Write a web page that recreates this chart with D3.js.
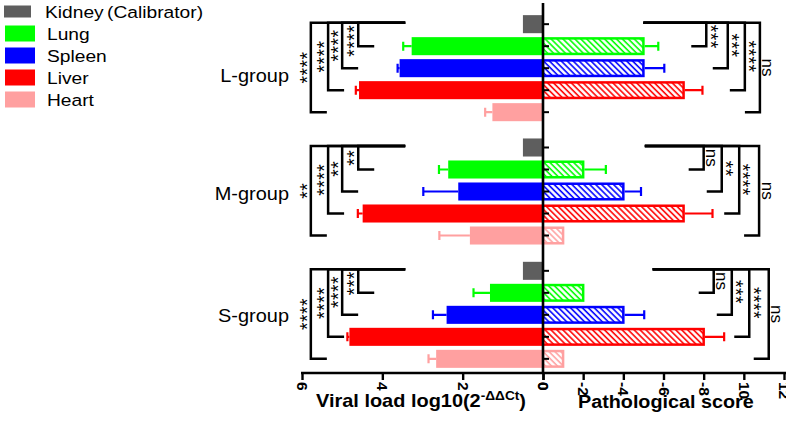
<!DOCTYPE html>
<html>
<head>
<meta charset="utf-8">
<script src="https://cdn.jsdelivr.net/npm/d3@7"></script>
<style>
body { margin: 0; background: #fff; }
svg { display: block; font-family: Arial, "Liberation Sans", sans-serif; }
</style>
</head>
<body>
<div class="container"></div>
<script>
// data
var groups = ["L-group", "M-group", "S-group"];
var organs = ["Kidney", "Lung", "Spleen", "Liver", "Heart"];
var organColors = ["#5e5e5e", "#00ff00", "#0000ff", "#ff0000", "#ffa0a0"];

// viral load log10(2^-ddCt), kidney is the calibrator
var viralL = [0.5, 3.27, 3.57, 4.58, 1.26];
var viralLErr = [0, 0.21, 0.05, 0.08, 0.18];
var viralM = [0.5, 2.36, 2.11, 4.49, 1.82];
var viralMErr = [0, 0.23, 0.87, 0.12, 0.76];
var viralS = [0.5, 1.32, 2.40, 4.82, 2.66];
var viralSErr = [0, 0.41, 0.34, 0.05, 0.19];

// pathological score (no kidney bar)
var pathL = [0, 5, 5, 7, 0];
var pathLErr = [0, 0.74, 1.04, 0.94, 0];
var pathM = [0, 2, 4, 7, 1];
var pathMErr = [0, 1.13, 0.88, 1.44, 0];
var pathS = [0, 2, 4, 8, 1];
var pathSErr = [0, 0, 1.04, 1.02, 0];

// significance vs kidney: lung, spleen, liver, heart
var sigLeftL = ["****", "****", "****", "****"];
var sigLeftM = ["**", "**", "****", "**"];
var sigLeftS = ["***", "****", "****", "****"];
var sigRightL = ["***", "***", "****", "ns"];
var sigRightM = ["ns", "**", "****", "ns"];
var sigRightS = ["ns", "***", "****", "ns"];

var viralTicks = [6, 4, 2, 0];
var scoreTicks = [0, 2, 4, 6, 8, 10, 12];
var scoreTickLabels = ["0", "-2", "-4", "-6", "-8", "10", "12"];

// layout
var w = 786, h = 424, mid = 543, axisY = 373;
var leftBracketX = [4.6, 5.0, 5.35, 5.78];     // viral units
var leftArmEnd = 3.43;
var rightBracketX = [[8.13, 9.2, 10.05, 10.8], [8.0, 8.9, 9.77, 10.76], [8.5, 9.4, 10.27, 11.24]];
var rightArmEnd = [5.0, 5.07, 5.46];
var groupLabelDy = [8, 2, 1];

var viralVals = [viralL, viralM, viralS], viralErrs = [viralLErr, viralMErr, viralSErr];
var pathVals = [pathL, pathM, pathS], pathErrs = [pathLErr, pathMErr, pathSErr];
var sigLeft = [sigLeftL, sigLeftM, sigLeftS], sigRight = [sigRightL, sigRightM, sigRightS];

var rows = [];
groups.forEach(function (g, gi) {
  organs.forEach(function (o, oi) {
    rows.push({ g: g, o: o, gi: gi, oi: oi,
      v: viralVals[gi][oi], ve: viralErrs[gi][oi],
      p: pathVals[gi][oi], pe: pathErrs[gi][oi],
      color: organColors[oi] });
  });
});

var svg = d3.select('.container').append('svg')
  .attr('width', w)
  .attr('height', h);

var xViral = d3.scaleLinear().domain([6, 0]).range([302, mid]);
var xScore = d3.scaleLinear().domain([0, 12]).range([mid, 784]);
var yGroup = d3.scaleBand().domain(groups).range([6.5, 376.5]).paddingInner(0.108).paddingOuter(0.054);
var yOrgan = d3.scaleBand().domain(organs).range([0, yGroup.bandwidth()]).paddingInner(0.18).paddingOuter(0.09);
var bh = yOrgan.bandwidth();

function yc(g, o) { return yGroup(g) + yOrgan(o) + bh / 2; }

function wideText(x, y, s) {
  return svg.append('text').attr('transform', 'translate(' + x + ',' + y + ') scale(' + s + ',1)');
}

// hatch patterns
var defs = svg.append('defs');
organColors.forEach(function (c, i) {
  var p = defs.append('pattern')
    .attr('id', 'hatch' + i)
    .attr('patternUnits', 'userSpaceOnUse')
    .attr('width', 4.2).attr('height', 4.2)
    .attr('patternTransform', 'rotate(-45)');
  p.append('rect').attr('width', 4.2).attr('height', 4.2).attr('fill', '#fff');
  p.append('line').attr('x1', 1).attr('x2', 1).attr('y1', 0).attr('y2', 4.2)
    .attr('stroke', c).attr('stroke-width', 1.6);
});

// legend
var legY = d3.scaleLinear().domain([0, 4]).range([11.5, 99.5]);
var leg = svg.append('g');
organs.forEach(function (o, i) {
  var kid = i === 0;
  leg.append('rect')
    .attr('x', kid ? 4 : 5)
    .attr('y', legY(i) - (kid ? 6 : 8))
    .attr('width', kid ? 27 : 30)
    .attr('height', kid ? 12 : 16)
    .attr('fill', organColors[i]);
  var t = wideText(kid ? 45 : 47, legY(i) + 6, 1.13)
    .style('font-size', '17px').text(o);
  if (kid) t.append('tspan').attr('dx', 3).text('(Calibrator)');
});

// group labels
groups.forEach(function (g, gi) {
  wideText(289, yGroup(g) + yGroup.bandwidth() / 2 + groupLabelDy[gi] + 6, 1.14)
    .style('font-size', '17.5px')
    .attr('text-anchor', 'end')
    .text(g);
});

// left bars: viral load
svg.selectAll('rect.viral')
  .data(rows)
  .enter()
  .append('rect')
  .attr('class', 'viral')
  .attr('x', function (d) { return xViral(d.v); })
  .attr('y', function (d) { return yc(d.g, d.o) - bh / 2; })
  .attr('width', function (d) { return mid - xViral(d.v); })
  .attr('height', bh)
  .attr('fill', function (d) { return d.color; });

var vErr = rows.filter(function (d) { return d.ve > 0; });
svg.selectAll('path.verr')
  .data(vErr)
  .enter()
  .append('path')
  .attr('class', 'verr')
  .attr('d', function (d) {
    var y = yc(d.g, d.o), x0 = xViral(d.v), x1 = xViral(d.v + d.ve);
    return 'M' + x0 + ',' + y + 'H' + x1 + 'M' + x1 + ',' + (y - 4.5) + 'V' + (y + 4.5);
  })
  .attr('fill', 'none')
  .attr('stroke', function (d) { return d.color; })
  .attr('stroke-width', 2.2);

// right bars: pathological score (hatched)
var pRows = rows.filter(function (d) { return d.p > 0; });
svg.selectAll('rect.path')
  .data(pRows)
  .enter()
  .append('rect')
  .attr('class', 'path')
  .attr('x', mid)
  .attr('y', function (d) { return yc(d.g, d.o) - bh / 2 + 1.25; })
  .attr('width', function (d) { return xScore(d.p) - mid; })
  .attr('height', bh - 2.5)
  .attr('fill', function (d) { return 'url(#hatch' + d.oi + ')'; })
  .attr('stroke', function (d) { return d.color; })
  .attr('stroke-width', 2.5);

var pErr = rows.filter(function (d) { return d.pe > 0; });
svg.selectAll('path.perr')
  .data(pErr)
  .enter()
  .append('path')
  .attr('class', 'perr')
  .attr('d', function (d) {
    var y = yc(d.g, d.o), x0 = xScore(d.p) + 1.25, x1 = xScore(d.p + d.pe);
    return 'M' + x0 + ',' + y + 'H' + x1 + 'M' + x1 + ',' + (y - 4.5) + 'V' + (y + 4.5);
  })
  .attr('fill', 'none')
  .attr('stroke', function (d) { return d.color; })
  .attr('stroke-width', 2.2);

// centre axis with a tick at every bar
svg.append('line')
  .attr('x1', mid).attr('x2', mid)
  .attr('y1', 3).attr('y2', axisY)
  .attr('stroke', '#000').attr('stroke-width', 2.6);
svg.selectAll('line.rowtick')
  .data(rows)
  .enter()
  .append('line')
  .attr('class', 'rowtick')
  .attr('x1', mid).attr('x2', mid + 6)
  .attr('y1', function (d) { return yc(d.g, d.o); })
  .attr('y2', function (d) { return yc(d.g, d.o); })
  .attr('stroke', '#000').attr('stroke-width', 2);

// bottom axes
function styleAxis(g) {
  g.select('.domain').remove();
  g.selectAll('.tick line').attr('stroke', '#000').attr('stroke-width', 2.4);
  g.selectAll('.tick text')
    .attr('x', 9).attr('y', 0).attr('dy', '0.35em')
    .attr('transform', 'rotate(90)')
    .style('text-anchor', 'start')
    .style('font-size', '15.5px')
    .style('font-weight', 'bold')
    .style('font-family', 'Arial, "Liberation Sans", sans-serif')
    .attr('fill', '#000');
}

var xAxisLeft = d3.axisBottom(xViral)
  .tickValues(viralTicks)
  .tickSize(7)
  .tickFormat(d3.format('d'));
svg.append('g')
  .attr('transform', 'translate(0,' + axisY + ')')
  .call(xAxisLeft)
  .call(styleAxis);

var xAxisRight = d3.axisBottom(xScore)
  .tickValues(scoreTicks)
  .tickSize(7)
  .tickFormat(function (d, i) { return scoreTickLabels[i]; });
svg.append('g')
  .attr('transform', 'translate(0,' + axisY + ')')
  .call(xAxisRight)
  .call(styleAxis);

svg.append('line')
  .attr('x1', xViral(6) - 1).attr('x2', w)
  .attr('y1', axisY).attr('y2', axisY)
  .attr('stroke', '#000').attr('stroke-width', 2.6);

// axis titles
var t1 = wideText(316, 407, 1.14)
  .style('font-size', '17.5px').style('font-weight', 'bold');
t1.append('tspan').text('Viral load log10(2');
t1.append('tspan').attr('dy', -7).style('font-size', '12px').text('-ΔΔCt');
t1.append('tspan').attr('dy', 7).text(')');

wideText(578, 408, 1.13)
  .style('font-size', '17.5px').style('font-weight', 'bold')
  .text('Pathological score');

// significance brackets
var brk = svg.append('g');
groups.forEach(function (g, gi) {
  var yTop = yc(g, organs[0]) - 1.5;
  organs.slice(1).forEach(function (o, bi) {
    var yBot = yc(g, o);
    var len;

    // left side
    var xl = xViral(leftBracketX[bi]);
    brk.append('path')
      .attr('d', 'M' + xViral(leftArmEnd) + ',' + yTop + 'H' + xl + 'V' + yBot + 'H' + (xl + 16))
      .attr('fill', 'none').attr('stroke', '#000').attr('stroke-width', 2.5);
    var lab = sigLeft[gi][bi];
    len = lab.length * 8;
    var cyl = Math.max((yTop + yBot) / 2, yTop + len / 2 + 2);
    brk.append('text')
      .attr('transform', 'translate(' + (xl - 8) + ',' + cyl + ') rotate(-90)')
      .attr('text-anchor', 'middle')
      .attr('dy', lab === 'ns' ? '0.26em' : '0.55em')
      .style('font-size', lab === 'ns' ? '17px' : '19.5px')
      .style('letter-spacing', lab === 'ns' ? '0px' : '0.4px')
      .text(lab);

    // right side
    var xr = xScore(rightBracketX[gi][bi]);
    brk.append('path')
      .attr('d', 'M' + xScore(rightArmEnd[gi]) + ',' + yTop + 'H' + xr + 'V' + yBot + 'H' + (xr - 15))
      .attr('fill', 'none').attr('stroke', '#000').attr('stroke-width', 2.5);
    var labR = sigRight[gi][bi];
    var isNs = labR === 'ns';
    len = isNs ? 18 : labR.length * 8;
    var cyr = Math.max((yTop + yBot) / 2, yTop + len / 2 + 2);
    brk.append('text')
      .attr('transform', 'translate(' + (xr + (isNs ? 7 : 8)) + ',' + cyr + ') rotate(90)')
      .attr('text-anchor', 'middle')
      .attr('dy', isNs ? '0.26em' : '0.55em')
      .style('font-size', isNs ? '17px' : '19.5px')
      .style('letter-spacing', isNs ? '0px' : '0.4px')
      .text(labR);
  });
});
</script>
</body>
</html>
